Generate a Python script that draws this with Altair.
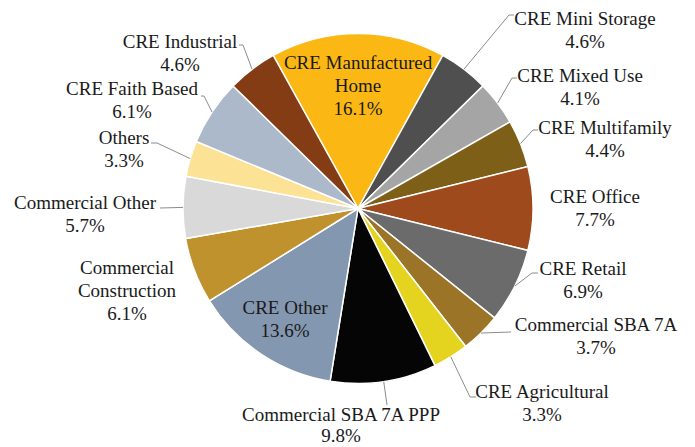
import math
import altair as alt
import pandas as pd

# ---------------- data ----------------
categories = [
    "CRE Manufactured Home", "CRE Mini Storage", "CRE Mixed Use", "CRE Multifamily",
    "CRE Office", "CRE Retail", "Commercial SBA 7A", "CRE Agricultural",
    "Commercial SBA 7A PPP", "CRE Other", "Commercial Construction",
    "Commercial Other", "Others", "CRE Faith Based", "CRE Industrial",
]
shares = [16.1, 4.6, 4.1, 4.4, 7.7, 6.9, 3.7, 3.3, 9.8, 13.6, 6.1, 5.7, 3.3, 6.1, 4.6]
label_lines = [
    ["CRE Manufactured", "Home"], ["CRE Mini Storage"], ["CRE Mixed Use"],
    ["CRE Multifamily"], ["CRE Office"], ["CRE Retail"], ["Commercial SBA 7A"],
    ["CRE Agricultural"], ["Commercial SBA 7A PPP"], ["CRE Other"],
    ["Commercial", "Construction"], ["Commercial Other"], ["Others"],
    ["CRE Faith Based"], ["CRE Industrial"],
]

# ---------------- styles / layout ----------------
colors = [
    "#FBB814", "#4F4F4F", "#A5A5A5", "#7D5F17", "#9E4A1C", "#6B6B6B", "#9C7427",
    "#E4D31F", "#050505", "#8497B0", "#BF922E", "#D9D9D9", "#FCE294", "#ACB9CA",
    "#833C14",
]
OFF = 8          # page margin
W, H = 675, 425
CX, CY = 358 - OFF, 208.5 - OFF
R = 175
LINE_H = 23
FONT = "Liberation Serif"
FSIZE = 19

# label block: centre x, first-line y (page coordinates)
label_pos = {
    "CRE Manufactured Home": (358, 63),
    "CRE Mini Storage": (585, 19),
    "CRE Mixed Use": (580, 76),
    "CRE Multifamily": (605, 128),
    "CRE Office": (595, 197),
    "CRE Retail": (583, 269),
    "Commercial SBA 7A": (596, 325),
    "CRE Agricultural": (542, 392),
    "Commercial SBA 7A PPP": (341, 415),
    "CRE Other": (285, 308),
    "Commercial Construction": (127, 268),
    "Commercial Other": (85, 203),
    "Others": (124, 138),
    "CRE Faith Based": (132, 89),
    "CRE Industrial": (180, 42),
}
line_gap = {"Commercial SBA 7A PPP": 21}
# leader-line points beyond the slice edge (page coordinates)
leader_pts = {
    "CRE Mini Storage": [(509, 15), (514, 15)],
    "CRE Mixed Use": [(512, 78), (517, 78)],
    "CRE Multifamily": [(533, 130), (538, 130)],
    "CRE Retail": [(532, 273), (538, 273)],
    "Commercial SBA 7A": [(511, 332)],
    "CRE Agricultural": [(470, 397), (476, 397)],
    "Commercial SBA 7A PPP": [(387, 405)],
    "Commercial Other": [(160, 208)],
    "Others": [(157, 143), (151, 143)],
    "CRE Faith Based": [(204, 96), (201, 96)],
    "CRE Industrial": [(243, 45), (239, 45)],
}

total = sum(shares)
start = -shares[0] / total * math.pi   # first slice centred at 12 o'clock

slices = pd.DataFrame({"cat": categories, "share": shares, "idx": range(len(categories))})

# leader lines: start on slice edge at the mid-angle
lrows = []
cum = 0.0
for c, v in zip(categories, shares):
    mid = start + (cum + v / 2) / total * 2 * math.pi
    cum += v
    if c in leader_pts:
        lrows.append({"cat": c, "seq": 0, "px": CX + R * math.sin(mid), "py": CY - R * math.cos(mid)})
        for k, (x, y) in enumerate(leader_pts[c]):
            lrows.append({"cat": c, "seq": k + 1, "px": x - OFF, "py": y - OFF})
leaders = pd.DataFrame(lrows)

xs = alt.Scale(domain=[0, W], range=[0, W], zero=False, nice=False)
ys = alt.Scale(domain=[0, H], range=[0, H], zero=False, nice=False)

pie = alt.Chart(slices).mark_arc(outerRadius=R, stroke="white", strokeWidth=1.5).encode(
    theta=alt.Theta("share:Q", stack=True,
                    scale=alt.Scale(domain=[0, total], range=[start, start + 2 * math.pi])),
    color=alt.Color("cat:N", scale=alt.Scale(domain=categories, range=colors), legend=None),
    order=alt.Order("idx:Q"),
    x=alt.value(CX),
    y=alt.value(CY),
)

leader_chart = alt.Chart(leaders).mark_line(color="#8C8C8C", strokeWidth=1).encode(
    x=alt.X("px:Q", scale=xs, axis=None),
    y=alt.Y("py:Q", scale=ys, axis=None),
    detail="cat:N",
    order="seq:Q",
)

# one small text layer per label line
label_layers = []
for i, (c, v) in enumerate(zip(categories, shares)):
    text_lines = label_lines[i] + [f"{v:.1f}%"]
    x0, y0 = label_pos[c]
    gap = line_gap.get(c, LINE_H)
    for j, t in enumerate(text_lines):
        label_layers.append(
            alt.Chart(pd.DataFrame({"lbl": [t]})).mark_text(
                font=FONT, fontSize=FSIZE, color="#1A1A1A", align="center", baseline="middle"
            ).encode(
                x=alt.value(x0 - OFF),
                y=alt.value(y0 + j * gap - OFF),
                text="lbl:N",
            )
        )

chart = alt.layer(pie, leader_chart, *label_layers).properties(
    width=W, height=H, padding=0,
    view=alt.ViewBackground(stroke="transparent", strokeWidth=0),
)

chart.save("out.html", embed_options={"renderer": "svg", "actions": False})
